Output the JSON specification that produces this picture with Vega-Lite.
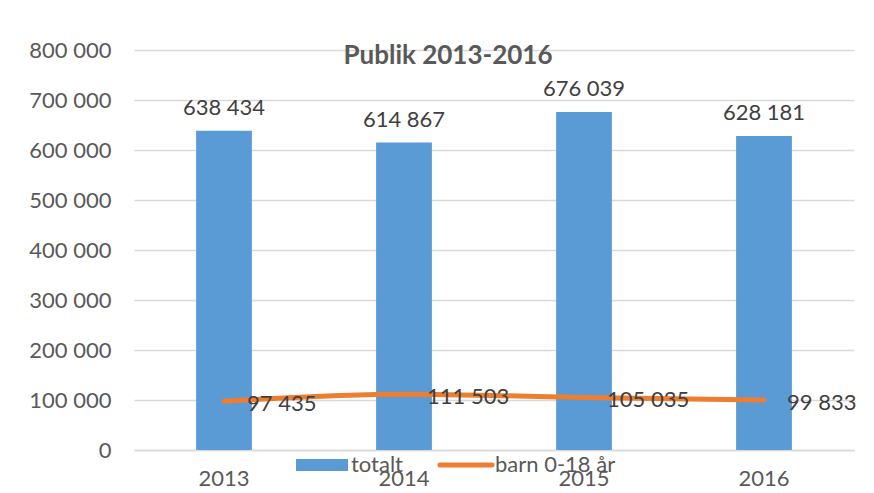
{
  "$schema": "https://vega.github.io/schema/vega-lite/v6.json",
  "autosize": {"type": "none"},
  "padding": {"left": 134, "top": 50, "right": 20, "bottom": 43},
  "width": 720,
  "height": 400,
  "background": "white",
  "config": {
    "locale": {"number": {"decimal": ",", "thousands": " ", "grouping": [3], "currency": ["", " kr"]}},
    "view": {"stroke": null},
    "font": "Lato"
  },
  "title": {
    "text": "Publik 2013-2016",
    "anchor": "middle",
    "frame": "group",
    "dx": -46,
    "offset": -30,
    "font": "Lato",
    "fontSize": 26,
    "fontWeight": "bold",
    "color": "#595959"
  },
  "data": {
    "values": [
      {"year": "2013", "totalt": 638434, "barn": 97435},
      {"year": "2014", "totalt": 614867, "barn": 111503},
      {"year": "2015", "totalt": 676039, "barn": 105035},
      {"year": "2016", "totalt": 628181, "barn": 99833}
    ]
  },
  "encoding": {
    "x": {
      "field": "year",
      "type": "nominal",
      "scale": {"paddingInner": 0.69, "paddingOuter": 0.345},
      "axis": {
        "title": null,
        "labelAngle": 0,
        "ticks": false,
        "domainColor": "#d9d9d9",
        "domainWidth": 1.5,
        "labelPadding": 18,
        "labelFont": "Lato",
        "labelFontSize": 22,
        "labelColor": "#595959"
      }
    }
  },
  "layer": [
    {
      "mark": {"type": "bar", "color": "#5B9BD5"},
      "encoding": {
        "y": {
          "field": "totalt",
          "type": "quantitative",
          "scale": {"domain": [0, 800000]},
          "axis": {
            "title": null,
            "values": [0, 100000, 200000, 300000, 400000, 500000, 600000, 700000, 800000],
            "format": ",d",
            "domain": false,
            "ticks": false,
            "gridColor": "#d9d9d9",
            "gridWidth": 1.5,
            "labelPadding": 23,
            "labelFont": "Lato",
            "labelFontSize": 22,
            "labelColor": "#595959"
          }
        },
        "color": {
          "datum": "totalt",
          "type": "nominal",
          "scale": {"domain": ["totalt", "barn 0-18 år"], "range": ["#5B9BD5", "#ED7D31"]},
          "legend": {
            "title": null,
            "orient": "none",
            "direction": "horizontal",
            "legendX": 177,
            "legendY": 404,
            "symbolSize": 2704,
            "labelFont": "Lato",
            "labelFontSize": 22,
            "labelColor": "#595959",
            "labelOffset": 18,
            "columnPadding": 26,
            "padding": 0,
            "encode": {
              "symbols": {
                "update": {
                  "shape": {"signal": "datum.value === 'totalt' ? 'M-1,-0.23H1V0.23H-1Z' : 'stroke'"},
                  "fill": {"signal": "datum.value === 'totalt' ? '#5B9BD5' : 'transparent'"},
                  "stroke": {"signal": "datum.value === 'totalt' ? 'transparent' : '#ED7D31'"},
                  "strokeWidth": {"signal": "datum.value === 'totalt' ? 0 : 5"},
                  "strokeCap": {"value": "round"},
                  "opacity": {"value": 1}
                }
              }
            }
          }
        }
      }
    },
    {
      "mark": {"type": "text", "baseline": "alphabetic", "dy": -16, "font": "Lato", "fontSize": 22, "color": "#404040"},
      "encoding": {
        "y": {"field": "totalt", "type": "quantitative"},
        "text": {"field": "totalt", "type": "quantitative", "format": ",d"}
      }
    },
    {
      "mark": {"type": "line", "strokeWidth": 5, "strokeCap": "round", "interpolate": "monotone"},
      "encoding": {
        "y": {"field": "barn", "type": "quantitative"},
        "color": {"datum": "barn 0-18 år", "type": "nominal"}
      }
    },
    {
      "mark": {"type": "text", "align": "left", "baseline": "middle", "dx": 23, "dy": 3, "font": "Lato", "fontSize": 22, "color": "#404040"},
      "encoding": {
        "y": {"field": "barn", "type": "quantitative"},
        "text": {"field": "barn", "type": "quantitative", "format": ",d"}
      }
    }
  ]
}
